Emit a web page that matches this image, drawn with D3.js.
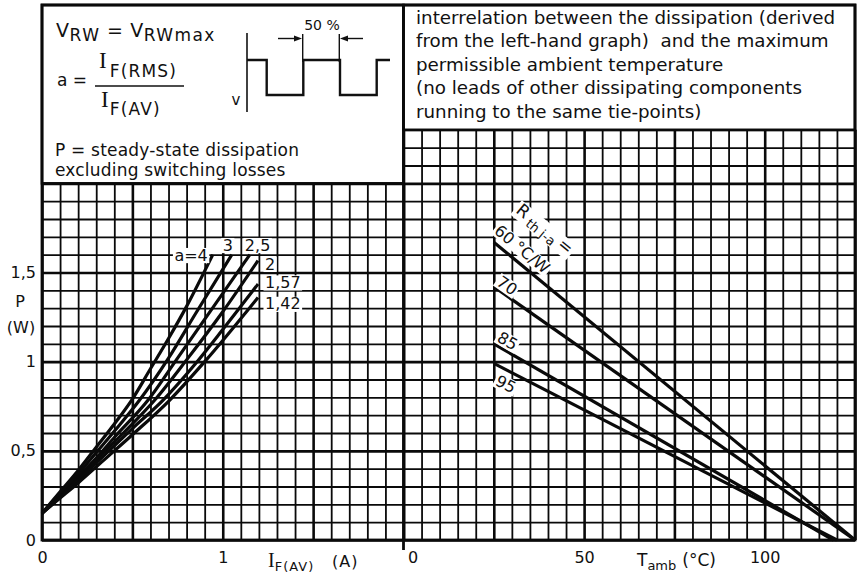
<!DOCTYPE html>
<html>
<head>
<meta charset="utf-8">
<script src="https://cdn.jsdelivr.net/npm/d3@7"></script>
<style>
  body { margin: 0; background: #fff; }
  svg text { font-family: "DejaVu Sans", sans-serif; fill: #111; }
  .serif { font-family: "Liberation Serif", "DejaVu Serif", serif; }
</style>
</head>
<body>
<div id="chart"></div>
<script>
// left graph: P (W) against I_F(AV) (A), one curve per form factor a
const formFactorLabels = ["a=4", "3", "2,5", "2", "1,57", "1,42"];
const curveA4   = [[0,0.15],[0.1,0.27],[0.2,0.39],[0.3,0.52],[0.4,0.65],[0.5,0.79],[0.6,0.96],[0.7,1.13],[0.8,1.31],[0.945,1.60]];
const curveA3   = [[0,0.15],[0.1,0.26],[0.2,0.37],[0.3,0.49],[0.4,0.61],[0.54,0.785],[0.7,1.02],[0.85,1.27],[1.05,1.60]];
const curveA25  = [[0,0.15],[0.1,0.25],[0.2,0.355],[0.3,0.46],[0.4,0.575],[0.587,0.785],[0.75,1.02],[0.95,1.31],[1.15,1.60]];
const curveA2   = [[0,0.15],[0.1,0.245],[0.2,0.345],[0.3,0.45],[0.45,0.60],[0.624,0.785],[0.8,1.01],[1.0,1.28],[1.195,1.567]];
const curveA157 = [[0,0.15],[0.1,0.24],[0.2,0.335],[0.35,0.48],[0.5,0.625],[0.67,0.785],[0.85,0.99],[1.0,1.18],[1.195,1.435]];
const curveA142 = [[0,0.15],[0.1,0.235],[0.2,0.32],[0.35,0.455],[0.5,0.59],[0.707,0.785],[0.9,1.0],[1.195,1.36]];

// right graph: P against T_amb, one straight line per R_th j-a
const rthLabels = ["60 °C/W", "70", "85", "95"];
const rthStartTemp = [25, 25, 25, 25];
const rthStartPower = [1.67, 1.42, 1.10, 0.99];
const rthEndTemp = [125, 125, 119, 120];

// tick labels
const currentTicks = [0, 1];
const currentTickLabels = ["0", "1"];
const powerTicks = [0, 0.5, 1, 1.5];
const powerTickLabels = ["0", "0,5", "1", "1,5"];
const tempTicks = [0, 50, 100];
const tempTickLabels = ["0", "50", "100"];

// white patch behind a label, like the knocked-out grid in the print
function whiteBehind(sel, pad) {
  const node = sel.node();
  const b = node.getBBox();
  d3.select(node.parentNode).insert('rect', () => node)
    .attr('x', b.x - pad)
    .attr('y', b.y + b.height * 0.12)
    .attr('width', b.width + 2 * pad)
    .attr('height', b.height * 0.8)
    .attr('transform', sel.attr('transform'))
    .attr('fill', '#fff');
}

function makeChart() {
  const w = 858, h = 576;
  const svg = d3.select('#chart').append('svg').attr('width', w).attr('height', h);

  const xI = d3.scaleLinear().domain([0, 2]).range([42, 403.5]);
  const xT = d3.scaleLinear().domain([0, 125]).range([403.5, 855]);
  const yP = d3.scaleLinear().domain([0, 3]).range([540, 5]);

  const isMajor = (v, step) => Math.abs(v / step - Math.round(v / step)) < 1e-6;

  // grid, drawn with axes and long ticks
  function grid(axis, tx, ty, majorStep) {
    const g = svg.append('g').attr('transform', `translate(${tx},${ty})`).call(axis);
    g.select('.domain').remove();
    g.selectAll('.tick line')
      .attr('stroke', '#0a0a0a')
      .attr('stroke-width', d => isMajor(d, majorStep) ? 2.6 : 1.8);
  }
  const iGrid = d3.range(0, 21).map(d => d / 10);
  const pGridL = d3.range(0, 21).map(d => d / 10);
  const pGridR = d3.range(0, 24).map(d => d / 10);
  const tGrid = d3.range(0, 26).map(d => d * 5);

  grid(d3.axisBottom(xI).tickValues(iGrid).tickFormat('').tickSize(-(yP(0) - yP(2))), 0, yP(0), 0.5);
  grid(d3.axisLeft(yP).tickValues(pGridL).tickFormat('').tickSize(-(xI(2) - xI(0))), xI(0), 0, 0.5);
  grid(d3.axisBottom(xT).tickValues(tGrid).tickFormat('').tickSize(-(yP(0) - yP(2.3))), 0, yP(0), 25);
  grid(d3.axisLeft(yP).tickValues(pGridR).tickFormat('').tickSize(-(xT(125) - xT(0))), xT(0), 0, 0.5);

  // frame and text boxes
  svg.append('rect')
    .attr('x', xI(0)).attr('y', yP(3)).attr('width', xI(2) - xI(0)).attr('height', yP(2) - yP(3))
    .attr('fill', '#fff').attr('stroke', '#0a0a0a').attr('stroke-width', 2.6);
  svg.append('rect')
    .attr('x', xT(0)).attr('y', yP(3)).attr('width', xT(125) - xT(0)).attr('height', yP(2.3) - yP(3))
    .attr('fill', '#fff').attr('stroke', '#0a0a0a').attr('stroke-width', 2.6);
  svg.append('rect')
    .attr('x', xI(0)).attr('y', yP(3)).attr('width', xT(125) - xI(0)).attr('height', yP(0) - yP(3))
    .attr('fill', 'none').attr('stroke', '#0a0a0a').attr('stroke-width', 2.8);
  svg.append('line')
    .attr('x1', xT(0)).attr('x2', xT(0)).attr('y1', yP(3)).attr('y2', yP(0) + 10)
    .attr('stroke', '#0a0a0a').attr('stroke-width', 2.8);

  // left curves
  const curves = [curveA4, curveA3, curveA25, curveA2, curveA157, curveA142];
  const line = d3.line().x(d => xI(d[0])).y(d => yP(d[1])).curve(d3.curveMonotoneX);
  svg.append('g').selectAll('path')
    .data(curves)
    .enter()
      .append('path')
      .attr('d', line)
      .attr('fill', 'none')
      .attr('stroke', '#0a0a0a')
      .attr('stroke-width', 3.2);

  const labelPlace = [
    {dx: -5, dy: 6, anchor: 'end'},
    {dx: -4, dy: -4, anchor: 'middle'},
    {dx: -5, dy: -4, anchor: 'start'},
    {dx: 7, dy: 9, anchor: 'start'},
    {dx: 7, dy: 4, anchor: 'start'},
    {dx: 7, dy: 12, anchor: 'start'}
  ];
  const labelLayer = svg.append('g');
  curves.forEach((c, i) => {
    const end = c[c.length - 1];
    const t = labelLayer.append('text')
      .attr('x', xI(end[0]) + labelPlace[i].dx)
      .attr('y', yP(end[1]) + labelPlace[i].dy)
      .attr('text-anchor', labelPlace[i].anchor)
      .style('font-size', '16px')
      .text(formFactorLabels[i]);
    whiteBehind(t, 1.5);
  });

  // right lines
  const rthOffsets = [[3, -14], [5, -7], [5, -8], [3, 16]];
  const rthLayer = svg.append('g');
  const rthTextLayer = svg.append('g');
  rthLabels.forEach((lab, i) => {
    const x0 = xT(rthStartTemp[i]), y0 = yP(rthStartPower[i]);
    const x1 = xT(rthEndTemp[i]), y1 = yP(0);
    rthLayer.append('line')
      .attr('x1', x0).attr('y1', y0).attr('x2', x1).attr('y2', y1)
      .attr('stroke', '#0a0a0a').attr('stroke-width', 3.2);
    const ang = Math.atan2(y1 - y0, x1 - x0) * 180 / Math.PI;
    const t = rthTextLayer.append('text')
      .attr('transform', `translate(${x0 + rthOffsets[i][0]},${y0 + rthOffsets[i][1]}) rotate(${ang})`)
      .attr('dy', '0.35em')
      .style('font-size', '16px')
      .text(lab);
    whiteBehind(t, 1.5);
    if (i === 0) {
      const r = rthTextLayer.append('text')
        .attr('transform', `translate(${x0 + 25},${y0 - 35}) rotate(${ang})`)
        .attr('dy', '0.35em')
        .style('font-size', '17px');
      r.append('tspan').text('R');
      r.append('tspan').attr('dy', 4).style('font-size', '13px').text(' th j-a ');
      r.append('tspan').attr('dy', -4).text('=');
      whiteBehind(r, 2);
    }
  });

  // tick labels
  const xAxisI = d3.axisBottom(xI).tickValues(currentTicks)
    .tickFormat((d, i) => currentTickLabels[i]).tickSize(0).tickPadding(12);
  const gI = svg.append('g').attr('transform', `translate(0,${yP(0)})`).call(xAxisI);
  const xAxisT = d3.axisBottom(xT).tickValues(tempTicks)
    .tickFormat((d, i) => tempTickLabels[i]).tickSize(0).tickPadding(12);
  const gT = svg.append('g').attr('transform', `translate(0,${yP(0)})`).call(xAxisT);
  gT.selectAll('.tick text').attr('dx', (d, i) => i === 0 ? 9 : 0);
  const yAxis = d3.axisLeft(yP).tickValues(powerTicks)
    .tickFormat((d, i) => powerTickLabels[i]).tickSize(0).tickPadding(6);
  const gP = svg.append('g').attr('transform', `translate(${xI(0)},0)`).call(yAxis);
  [gI, gT, gP].forEach(g => {
    g.select('.domain').remove();
    g.selectAll('.tick text').style('font-size', '16px').style('font-family', '"DejaVu Sans", sans-serif').attr('fill', '#111');
  });

  // axis titles
  svg.append('text').attr('x', 20).attr('y', 307).attr('text-anchor', 'middle').style('font-size', '16px').text('P');
  svg.append('text').attr('x', 21).attr('y', 333).attr('text-anchor', 'middle').style('font-size', '16px').text('(W)');

  const ti = svg.append('text').attr('x', 268).attr('y', 567);
  ti.append('tspan').classed('serif', true).style('font-size', '20px').text('I');
  ti.append('tspan').attr('dy', 4).style('font-size', '13px').style('letter-spacing', '1px').text('F(AV)');
  svg.append('text').attr('x', 332).attr('y', 567).style('font-size', '16px').style('letter-spacing', '1px').text('(A)');

  const tt = svg.append('text').attr('x', 637).attr('y', 566).style('font-size', '17px');
  tt.append('tspan').text('T');
  tt.append('tspan').attr('dy', 4).style('font-size', '13px').text('amb');
  tt.append('tspan').attr('dy', -4).attr('dx', 6).text('(°C)');

  // left info box
  const v1 = svg.append('text').attr('x', 56).attr('y', 37).style('font-size', '19px').style('letter-spacing', '0.6px');
  v1.append('tspan').text('V');
  v1.append('tspan').attr('dy', 4).style('font-size', '17px').style('letter-spacing', '1.4px').text('RW');
  v1.append('tspan').attr('dy', -4).text(' = V');
  v1.append('tspan').attr('dy', 4).style('font-size', '17px').style('letter-spacing', '1.4px').text('RWmax');

  svg.append('text').attr('x', 57).attr('y', 86).style('font-size', '17px').text('a =');
  const num = svg.append('text').attr('x', 99).attr('y', 68);
  num.append('tspan').classed('serif', true).style('font-size', '23px').text('I');
  num.append('tspan').attr('dy', 9).attr('dx', 3).style('font-size', '17px').style('letter-spacing', '1.2px').text('F(RMS)');
  svg.append('line').attr('x1', 95).attr('x2', 184).attr('y1', 86).attr('y2', 86)
    .attr('stroke', '#111').attr('stroke-width', 1.6);
  const den = svg.append('text').attr('x', 101).attr('y', 107);
  den.append('tspan').classed('serif', true).style('font-size', '23px').text('I');
  den.append('tspan').attr('dy', 8).attr('dx', 1).style('font-size', '17px').style('letter-spacing', '1.2px').text('F(AV)');

  // reverse-voltage waveform sketch
  const wave = svg.append('g').attr('fill', 'none').attr('stroke', '#111');
  wave.append('line').attr('x1', 247).attr('x2', 247).attr('y1', 33).attr('y2', 112).attr('stroke-width', 1.6);
  wave.append('path').attr('d', 'M247,60H266.7V95H303.3V60H340V95H376.7V60H390').attr('stroke-width', 2.4);
  wave.append('line').attr('x1', 302.7).attr('x2', 302.7).attr('y1', 34).attr('y2', 62).attr('stroke-width', 1.4);
  wave.append('line').attr('x1', 339.3).attr('x2', 339.3).attr('y1', 34).attr('y2', 62).attr('stroke-width', 1.4);
  wave.append('line').attr('x1', 278).attr('x2', 296).attr('y1', 38.5).attr('y2', 38.5).attr('stroke-width', 1.4);
  wave.append('line').attr('x1', 363).attr('x2', 346).attr('y1', 38.5).attr('y2', 38.5).attr('stroke-width', 1.4);
  wave.append('path').attr('d', 'M302,38.5L294,35.5L294,41.5Z').attr('fill', '#111').attr('stroke', 'none');
  wave.append('path').attr('d', 'M340,38.5L348,35.5L348,41.5Z').attr('fill', '#111').attr('stroke', 'none');
  svg.append('text').attr('x', 322).attr('y', 30).attr('text-anchor', 'middle').style('font-size', '14px').text('50 %');
  svg.append('text').attr('x', 236).attr('y', 105).attr('text-anchor', 'middle').style('font-size', '15px').text('v');

  svg.append('text').attr('x', 55).attr('y', 156).style('font-size', '17px').style('letter-spacing', '0.2px').text('P = steady-state dissipation');
  svg.append('text').attr('x', 55).attr('y', 176).style('font-size', '17px').style('letter-spacing', '0.2px').text('excluding switching losses');

  // right info box
  const notes = [
    'interrelation between the dissipation (derived',
    'from the left-hand graph)  and the maximum',
    'permissible ambient temperature',
    '(no leads of other dissipating components',
    'running to the same tie-points)'
  ];
  svg.append('g').selectAll('text')
    .data(notes)
    .enter()
      .append('text')
      .attr('x', 416)
      .attr('y', (d, i) => 24 + i * 23.4)
      .style('font-size', '18.3px')
      .style('white-space', 'pre')
      .text(d => d);
}

window.onload = function () {
  makeChart();
};
</script>
</body>
</html>
